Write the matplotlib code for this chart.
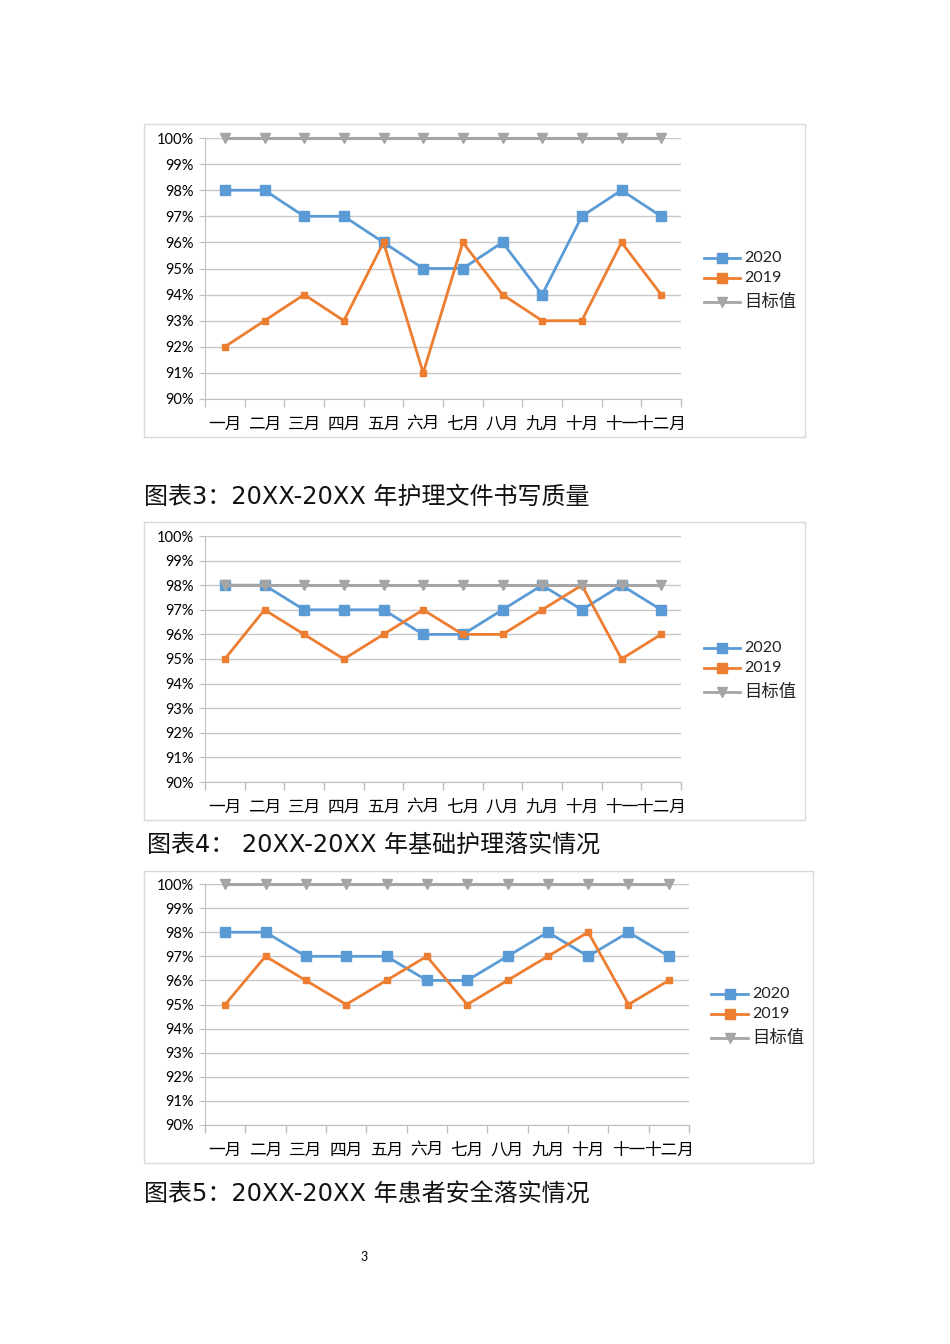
import matplotlib
matplotlib.use("Agg")
import matplotlib.pyplot as plt
from matplotlib.patches import Rectangle
from matplotlib.lines import Line2D

plt.rcParams['font.family'] = ['Lato', 'Noto Sans CJK SC', 'DejaVu Sans']

W, H = 950, 1344

MONTHS = ["一月", "二月", "三月", "四月", "五月", "六月",
          "七月", "八月", "九月", "十月", "十一", "十二月"]
SERIES_NAMES = ["2020", "2019", "目标值"]

# chart 3 : 护理文件书写质量
C3_2020 = [98, 98, 97, 97, 96, 95, 95, 96, 94, 97, 98, 97]
C3_2019 = [92, 93, 94, 93, 96, 91, 96, 94, 93, 93, 96, 94]
C3_TARGET = [100] * 12

# chart 4 : 基础护理落实情况
C4_2020 = [98, 98, 97, 97, 97, 96, 96, 97, 98, 97, 98, 97]
C4_2019 = [95, 97, 96, 95, 96, 97, 96, 96, 97, 98, 95, 96]
C4_TARGET = [98] * 12

# chart 5 : 患者安全落实情况
C5_2020 = [98, 98, 97, 97, 97, 96, 96, 97, 98, 97, 98, 97]
C5_2019 = [95, 97, 96, 95, 96, 97, 95, 96, 97, 98, 95, 96]
C5_TARGET = [100] * 12

CAPTIONS = ["图表3：20XX-20XX 年护理文件书写质量",
            "图表4： 20XX-20XX 年基础护理落实情况",
            "图表5：20XX-20XX 年患者安全落实情况"]

BLUE = '#5B9BD5'
ORANGE = '#ED7D31'
GRAY = '#A5A5A5'
GRID = '#C8C8C8'
CAPTION_FONT = ['DejaVu Sans', 'Noto Sans CJK SC']


def fx(px):
  return px / W


def fy(py):
  return 1 - py / H


def add_px_axes(fig, x0, y0, x1, y1):
  # pixel box (top-left origin) -> figure axes
  return fig.add_axes([fx(x0), fy(y1), fx(x1 - x0), (y1 - y0) / H])


def draw_chart(fig, box, plot, legend, d2020, d2019, target):
  bx0, by0, bx1, by1 = box
  fig.patches.append(Rectangle((fx(bx0), fy(by1)), fx(bx1 - bx0), (by1 - by0) / H,
                               transform=fig.transFigure, fill=False,
                               edgecolor='#D9D9D9', linewidth=1))
  ax = add_px_axes(fig, *plot)
  x = list(range(12))
  # same drawing order as the office chart: 2020, 2019, target on top
  ax.plot(x, d2020, color=BLUE, linewidth=2, marker='s', markersize=6.5,
          markerfacecolor=BLUE, markeredgecolor=BLUE, zorder=3, clip_on=False)
  ax.plot(x, d2019, color=ORANGE, linewidth=2, marker='s', markersize=5,
          markerfacecolor=ORANGE, markeredgecolor=ORANGE, zorder=4, clip_on=False)
  ax.plot(x, target, color=GRAY, linewidth=2.2, marker='v', markersize=6.5,
          markerfacecolor=GRAY, markeredgecolor=GRAY, zorder=5, clip_on=False)

  ax.set_xlim(-0.5, 11.5)
  ax.set_ylim(90, 100)
  ax.set_yticks(range(90, 101))
  ax.set_yticklabels(["%d%%" % v for v in range(90, 101)], fontsize=10.5)
  ax.set_xticks(x)
  ax.set_xticklabels(MONTHS, fontsize=12)
  ax.set_xticks([i - 0.5 for i in range(13)], minor=True)
  ax.tick_params(axis='x', which='major', length=0, pad=12)
  ax.tick_params(axis='x', which='minor', length=6, color='#BFBFBF', width=1)
  ax.tick_params(axis='y', length=4, color='#BFBFBF', pad=4)
  ax.grid(axis='y', color=GRID, linewidth=1)
  ax.set_axisbelow(True)
  for s in ['top', 'right']:
    ax.spines[s].set_visible(False)
  for s in ['left', 'bottom']:
    ax.spines[s].set_color('#BFBFBF')
  ax.set_facecolor('none')

  lx0, lx1, ltx, ly = legend
  specs = [(BLUE, 's', 6.5), (ORANGE, 's', 6.5), (GRAY, 'v', 6.5)]
  for i, (name, (c, m, ms)) in enumerate(zip(SERIES_NAMES, specs)):
    yy = ly[i]
    fig.add_artist(Line2D([fx(lx0), fx(lx1)], [fy(yy), fy(yy)], color=c,
                          linewidth=2, transform=fig.transFigure))
    fig.add_artist(Line2D([fx((lx0 + lx1) / 2)], [fy(yy)], color=c, marker=m,
                          markersize=ms, linestyle='none', transform=fig.transFigure))
    fig.text(fx(ltx), fy(yy), name, fontsize=11.5 if i < 2 else 12.5,
             va='center', ha='left', color='#222222')


fig = plt.figure(figsize=(W / 100, H / 100), dpi=100, facecolor='white')

draw_chart(fig, (144, 124, 805, 437), (205, 138, 681, 399),
           (704, 740, 744, [258, 278, 302]), C3_2020, C3_2019, C3_TARGET)
draw_chart(fig, (144, 522, 805, 820), (205, 536, 681, 782),
           (704, 740, 744, [648, 668, 692]), C4_2020, C4_2019, C4_TARGET)
draw_chart(fig, (144, 871, 813, 1163), (205, 884, 689, 1125),
           (711, 748, 752, [994, 1014, 1038]), C5_2020, C5_2019, C5_TARGET)

fig.text(fx(144), fy(497), CAPTIONS[0], fontsize=17.3, va='center', ha='left',
         family=CAPTION_FONT, color='#111111')
fig.text(fx(147), fy(846), CAPTIONS[1], fontsize=17.3, va='center', ha='left',
         family=CAPTION_FONT, color='#111111')
fig.text(fx(144), fy(1195), CAPTIONS[2], fontsize=17.3, va='center', ha='left',
         family=CAPTION_FONT, color='#111111')
fig.text(fx(364), fy(1257), "3", fontsize=9, va='center', ha='center')

fig.savefig("out.png", dpi=100, facecolor='white')
